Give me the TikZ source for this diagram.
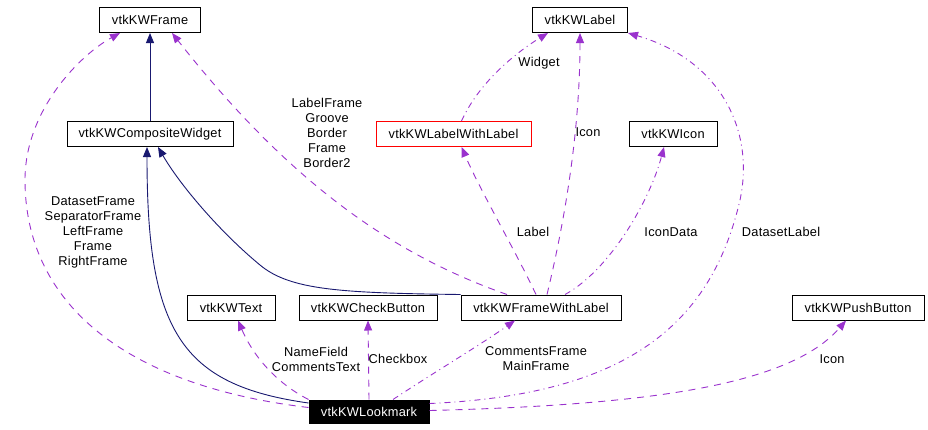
\documentclass[tikz,border=0pt]{standalone}
\usepackage{fontspec}
\setmainfont{Liberation Sans}[LetterSpace=2]
\usetikzlibrary{arrows.meta}

\definecolor{usecol}{HTML}{9A32CD}
\definecolor{inhcol}{HTML}{191970}

\begin{document}
\begin{tikzpicture}[
  x=1pt, y=-1pt,
  font=\fontsize{12.8}{15}\selectfont,
  cls/.style={rectangle, draw, line width=1pt, minimum height=25pt,
    inner sep=0pt, anchor=center},
  inh/.style={draw=inhcol, line width=0.9pt,
    -{Triangle[length=10pt, width=8pt]}, inhcol},
  use/.style={draw=usecol, line width=0.9pt, dash pattern=on 7pt off 6pt,
    -{Triangle[length=10pt, width=8pt]}, usecol},
  usedot/.style={use, dash pattern=on 6pt off 4pt on 1pt off 4pt},
  lbl/.style={align=center, inner sep=0pt, text=black}
]
\useasboundingbox (0,0) rectangle (928,429);

% classes
\node[cls, minimum width=101pt] (frame) at (150,20) {vtkKWFrame};
\node[cls, minimum width=95pt] (label) at (580,20) {vtkKWLabel};
\node[cls, minimum width=166pt] (comp) at (150,134) {vtkKWCompositeWidget};
\node[cls, minimum width=155pt, draw=red] (lwl) at (453.5,134) {vtkKWLabelWithLabel};
\node[cls, minimum width=88pt] (icon) at (673,134) {vtkKWIcon};
\node[cls, minimum width=88pt] (text) at (231,307.5) {vtkKWText};
\node[cls, minimum width=138pt] (check) at (368,307.5) {vtkKWCheckButton};
\node[cls, minimum width=160pt] (fwl) at (541,307.5) {vtkKWFrameWithLabel};
\node[cls, minimum width=132pt] (push) at (858,307.5) {vtkKWPushButton};
\node[cls, minimum width=120pt, minimum height=23pt, fill=black, text=white]
  (look) at (369,411.5) {vtkKWLookmark};

% inheritance
\draw[inh] (comp.north) -- (frame.south);
\draw[inh] (fwl.north west) .. controls (340,293) and (290,290) .. (260,265)
  .. controls (220,232) and (180,185) .. ([xshift=8pt]comp.south);
\draw[inh] ([yshift=8.5pt]look.west) .. controls (180,385) and (147,330)
  .. ([xshift=-3pt]comp.south);

% usage
\draw[use] ([yshift=4pt]look.west) .. controls (120,385) and (25,300) .. (25,180)
  .. controls (25,110) and (80,55) .. ([xshift=-30pt]frame.south);
\draw[use] ([xshift=-34pt]fwl.north) .. controls (380,250) and (280,170)
  .. ([xshift=22pt]frame.south);
\draw[usedot] ([xshift=8pt]lwl.north) .. controls (480,80) and (520,50)
  .. ([xshift=-32pt]label.south);
\draw[use] ([xshift=6pt]fwl.north) .. controls (565,220) and (580,130) .. (label.south);
\draw[use] ([xshift=-5pt]fwl.north) .. controls (515,250) and (480,190)
  .. ([xshift=8pt]lwl.south);
\draw[usedot] ([xshift=24pt]fwl.north) .. controls (610,270) and (650,200)
  .. ([xshift=-9pt]icon.south);
\draw[usedot] ([yshift=8pt]look.east) .. controls (620,395) and (710,330) .. (740,200)
  .. controls (755,130) and (720,60) .. (label.south east);
\draw[use] (look.north west) .. controls (280,385) and (255,360)
  .. ([xshift=7pt]text.south);
\draw[use] (look.north) -- (check.south);
\draw[usedot] ([xshift=24pt]look.north) .. controls (430,375) and (480,345)
  .. ([xshift=-26pt]fwl.south);
\draw[use] ([yshift=1pt]look.east) .. controls (650,405) and (790,385)
  .. ([xshift=-12pt]push.south);

% labels
\node[lbl] (lbdataset) at (93,232) {DatasetFrame\\SeparatorFrame\\LeftFrame\\Frame\\RightFrame};
\node[lbl] (lbframe) at (327,133) {LabelFrame\\Groove\\Border\\Frame\\Border2};
\node[lbl] (lbwidget) at (539,63) {Widget};
\node[lbl] (lbicon) at (588,132) {Icon};
\node[lbl] (lblabel) at (533,232) {Label};
\node[lbl] (lbicondata) at (671,232) {IconData};
\node[lbl] (lbdslabel) at (781,232) {DatasetLabel};
\node[lbl] (lbname) at (316,359) {NameField\\CommentsText};
\node[lbl] (lbcheck) at (398,359) {Checkbox};
\node[lbl] (lbcomments) at (536,359) {CommentsFrame\\MainFrame};
\node[lbl] (lbpush) at (832,359) {Icon};
\end{tikzpicture}
\end{document}
